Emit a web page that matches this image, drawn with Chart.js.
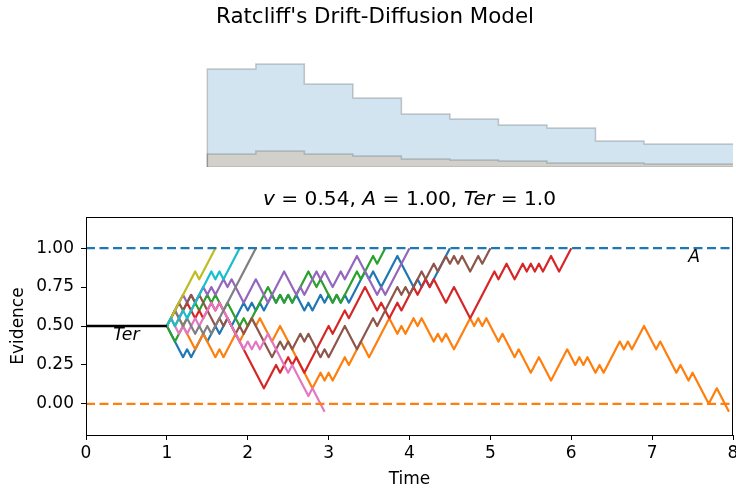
<!DOCTYPE html>
<html>
<head>
<meta charset="utf-8">
<script src="https://cdn.jsdelivr.net/npm/chart.js@4.4.1/dist/chart.umd.min.js"></script>
<style>
    html, body { margin: 0; padding: 0; background: #fff; }
    #wrap { position: relative; width: 736px; height: 490px; }
    #histCanvas { position: absolute; left: 0; top: 0; }
    #walkCanvas { position: absolute; left: 0; top: 175px; }
</style>
</head>
<body>
<div id="wrap">
    <canvas id="histCanvas" width="736" height="175" style="width:736px;height:175px"></canvas>
    <canvas id="walkCanvas" width="736" height="315" style="width:736px;height:315px"></canvas>
</div>
<script>
const FONT = '"DejaVu Sans", "Liberation Sans", sans-serif';

// MODEL PARAMETERS

const driftRate = 0.54;
const boundary = 1.0;
const startPoint = 0.5;
const nonDecisionTime = 1.0;

// FINISHING TIME HISTOGRAMS (bin edges in time units)

const binEdges = [1.5, 2.1, 2.7, 3.3, 3.9, 4.5, 5.1, 5.7, 6.3, 6.9, 7.5, 8.1];
const upperHist = [0.65, 0.98, 1.03, 0.83, 0.69, 0.53, 0.48, 0.42, 0.39, 0.26, 0.23];
const lowerHist = [0.05, 0.13, 0.16, 0.13, 0.11, 0.08, 0.07, 0.06, 0.04, 0.04, 0.03];

// SAMPLE WALKS - turning points [time, evidence]

const walkBlue = [[1.00,0.50],[1.20,0.30],[1.25,0.35],[1.30,0.30],[1.45,0.45],[1.50,0.40],[1.60,0.50],[1.65,0.45],
    [1.75,0.55],[1.80,0.50],[1.95,0.65],[2.00,0.60],[2.05,0.65],[2.10,0.60],[2.15,0.65],[2.20,0.60],[2.30,0.70],
    [2.35,0.65],[2.40,0.70],[2.45,0.65],[2.50,0.70],[2.55,0.65],[2.60,0.70],[2.70,0.60],[2.75,0.65],[2.80,0.60],
    [2.90,0.70],[2.95,0.65],[3.00,0.70],[3.05,0.65],[3.10,0.70],[3.15,0.65],[3.20,0.70],[3.25,0.65],[3.45,0.85],
    [3.50,0.80],[3.55,0.85],[3.65,0.75],[3.85,0.95],[4.05,0.75],[4.10,0.80],[4.15,0.75],[4.20,0.80],[4.25,0.75],
    [4.50,1.00]];
const walkOrange = [[1.00,0.50],[1.05,0.55],[1.10,0.50],[1.15,0.55],[1.35,0.35],[1.45,0.45],[1.60,0.30],[1.65,0.35],
    [1.70,0.30],[1.85,0.45],[1.90,0.40],[2.05,0.55],[2.10,0.50],[2.15,0.55],[2.30,0.40],[2.40,0.50],[2.80,0.10],
    [2.90,0.20],[2.95,0.15],[3.00,0.20],[3.05,0.15],[3.20,0.30],[3.25,0.25],[3.40,0.40],[3.50,0.30],[3.75,0.55],
    [3.85,0.45],[3.90,0.50],[3.95,0.45],[4.05,0.55],[4.10,0.50],[4.15,0.55],[4.30,0.40],[4.35,0.45],[4.40,0.40],
    [4.45,0.45],[4.55,0.35],[4.75,0.55],[4.80,0.50],[4.85,0.55],[4.90,0.50],[4.95,0.55],[5.10,0.40],[5.15,0.45],
    [5.30,0.30],[5.35,0.35],[5.50,0.20],[5.60,0.30],[5.75,0.15],[5.95,0.35],[6.05,0.25],[6.10,0.30],[6.15,0.25],
    [6.20,0.30],[6.30,0.20],[6.35,0.25],[6.40,0.20],[6.60,0.40],[6.65,0.35],[6.70,0.40],[6.75,0.35],[6.90,0.50],
    [7.05,0.35],[7.10,0.40],[7.30,0.20],[7.35,0.25],[7.45,0.15],[7.50,0.20],[7.70,0.00],[7.80,0.10],[7.95,-0.05]];
const walkGreen = [[1.00,0.50],[1.10,0.40],[1.35,0.65],[1.40,0.60],[1.50,0.70],[1.55,0.65],[1.60,0.70],[1.70,0.60],
    [1.75,0.65],[1.90,0.50],[1.95,0.55],[2.00,0.50],[2.25,0.75],[2.35,0.65],[2.40,0.70],[2.45,0.65],[2.50,0.70],
    [2.55,0.65],[2.75,0.85],[2.85,0.75],[2.90,0.80],[3.05,0.65],[3.10,0.70],[3.15,0.65],[3.35,0.85],[3.40,0.80],
    [3.55,0.95],[3.60,0.90],[3.70,1.00]];
const walkRed = [[1.00,0.50],[1.10,0.60],[1.15,0.55],[1.25,0.65],[1.35,0.55],[1.40,0.60],[1.45,0.55],[1.55,0.65],
    [1.60,0.60],[1.65,0.65],[2.20,0.10],[2.35,0.25],[2.40,0.20],[2.50,0.30],[2.55,0.25],[2.60,0.30],[2.70,0.20],
    [3.00,0.50],[3.05,0.45],[3.20,0.60],[3.25,0.55],[3.45,0.75],[3.60,0.60],[3.65,0.65],[3.75,0.55],[3.85,0.65],
    [3.90,0.60],[4.05,0.75],[4.10,0.70],[4.20,0.80],[4.25,0.75],[4.30,0.80],[4.45,0.65],[4.55,0.75],[4.75,0.55],
    [5.05,0.85],[5.10,0.80],[5.20,0.90],[5.30,0.80],[5.40,0.90],[5.45,0.85],[5.50,0.90],[5.55,0.85],[5.60,0.90],
    [5.65,0.85],[5.75,0.95],[5.85,0.85],[6.00,1.00]];
const walkPurple = [[1.00,0.50],[1.20,0.70],[1.25,0.65],[1.30,0.70],[1.35,0.65],[1.45,0.75],[1.50,0.70],[1.55,0.75],
    [1.60,0.70],[1.70,0.80],[1.75,0.75],[1.80,0.80],[1.95,0.65],[2.10,0.80],[2.25,0.65],[2.45,0.85],[2.60,0.70],
    [2.65,0.75],[2.70,0.70],[2.85,0.85],[2.90,0.80],[2.95,0.85],[3.05,0.75],[3.15,0.85],[3.20,0.80],[3.35,0.95],
    [3.60,0.70],[3.65,0.75],[3.70,0.70],[4.00,1.00]];
const walkBrown = [[1.00,0.50],[1.15,0.65],[1.20,0.60],[1.30,0.70],[1.35,0.65],[1.40,0.70],[1.60,0.50],[1.65,0.55],
    [1.70,0.50],[1.75,0.55],[1.85,0.45],[1.90,0.50],[1.95,0.45],[2.05,0.55],[2.30,0.30],[2.40,0.40],[2.45,0.35],
    [2.50,0.40],[2.55,0.35],[2.65,0.45],[2.70,0.40],[2.75,0.45],[2.90,0.30],[2.95,0.35],[3.00,0.30],[3.20,0.50],
    [3.35,0.35],[3.55,0.55],[3.60,0.50],[3.85,0.75],[3.90,0.70],[3.95,0.75],[4.00,0.70],[4.15,0.85],[4.20,0.80],
    [4.30,0.90],[4.35,0.85],[4.45,0.95],[4.50,0.90],[4.55,0.95],[4.60,0.90],[4.65,0.95],[4.75,0.85],[4.85,0.95],
    [4.90,0.90],[5.00,1.00]];
const walkPink = [[1.00,0.50],[1.05,0.55],[1.15,0.45],[1.20,0.50],[1.25,0.45],[1.35,0.55],[1.40,0.50],[1.55,0.65],
    [1.60,0.60],[1.65,0.65],[1.95,0.35],[2.00,0.40],[2.05,0.35],[2.10,0.40],[2.15,0.35],[2.25,0.45],[2.50,0.20],
    [2.55,0.25],[2.75,0.05],[2.80,0.10],[2.95,-0.05]];
const walkGray = [[1.00,0.50],[1.10,0.60],[1.20,0.50],[1.25,0.55],[1.35,0.45],[1.40,0.50],[1.45,0.45],[1.50,0.50],
    [1.55,0.45],[2.10,1.00]];
const walkOlive = [[1.00,0.50],[1.35,0.85],[1.40,0.80],[1.60,1.00]];
const walkCyan = [[1.00,0.50],[1.05,0.55],[1.10,0.50],[1.20,0.60],[1.25,0.55],[1.55,0.85],[1.60,0.80],[1.65,0.85],
    [1.70,0.80],[1.90,1.00]];

const walks = [walkBlue, walkOrange, walkGreen, walkRed, walkPurple, walkBrown, walkPink, walkGray, walkOlive, walkCyan];
const walkColors = ['#1f77b4', '#ff7f0e', '#2ca02c', '#d62728', '#9467bd', '#8c564b', '#e377c2', '#7f7f7f', '#bcbd22', '#17becf'];

const xTicks = [0, 1, 2, 3, 4, 5, 6, 7, 8];
const yTicks = [0.00, 0.25, 0.50, 0.75, 1.00];

Chart.defaults.font.family = FONT;
Chart.defaults.color = '#000';
Chart.defaults.animation = false;

// HELPERS

// outline of a step histogram: up the first edge, across the bins, down the last edge
function stepOutline(edges, values) {
    const last = edges.length - 1;
    const pts = [{x: edges[0], y: 0}];
    values.forEach((v, i) => pts.push({x: edges[i], y: v}));
    pts.push({x: edges[last], y: values[values.length - 1]});
    pts.push({x: edges[last], y: 0});
    return pts;
}

function drawRuns(ctx, runs, cx, cy, size) {
    let total = 0;
    runs.forEach(r => {
        ctx.font = (r.italic ? 'italic ' : '') + size + 'px ' + FONT;
        r.w = ctx.measureText(r.text).width;
        total += r.w;
    });
    let x = cx - total / 2;
    ctx.textAlign = 'left';
    ctx.textBaseline = 'middle';
    runs.forEach(r => {
        ctx.font = (r.italic ? 'italic ' : '') + size + 'px ' + FONT;
        ctx.fillText(r.text, x, cy);
        x += r.w;
    });
}

// HISTOGRAM PANEL

const suptitlePlugin = {
    id: 'suptitle',
    afterDraw(chart) {
        const {ctx} = chart;
        ctx.save();
        ctx.fillStyle = '#000';
        drawRuns(ctx, [{text: "Ratcliff's Drift-Diffusion Model"}], 375, 17, 21.4);
        ctx.restore();
    }
};

// lower histogram is drawn first, the upper one sits over it
new Chart(document.getElementById('histCanvas'), {
    type: 'line',
    data: {
        datasets: [
            {
                data: stepOutline(binEdges, upperHist),
                stepped: 'after',
                borderColor: 'rgba(0, 0, 0, 0.2)',
                backgroundColor: 'rgba(31, 119, 180, 0.2)',
                borderWidth: 1.5,
                fill: 'origin',
                pointRadius: 0,
                order: 2
            },
            {
                data: stepOutline(binEdges, lowerHist),
                stepped: 'after',
                borderColor: 'rgba(0, 0, 0, 0.2)',
                backgroundColor: 'rgba(255, 127, 14, 0.2)',
                borderWidth: 1.5,
                fill: 'origin',
                pointRadius: 0,
                order: 3
            },
            {
                data: [{x: binEdges[0], y: 0}, {x: binEdges[binEdges.length - 1], y: 0}],
                borderColor: 'rgba(0, 0, 0, 0.12)',
                borderWidth: 1.5,
                fill: false,
                pointRadius: 0,
                order: 1
            }
        ]
    },
    options: {
        responsive: false,
        layout: { padding: { left: 86, right: 3, top: 37, bottom: 8 } },
        plugins: {
            legend: { display: false },
            tooltip: { enabled: false },
            title: { display: false }
        },
        scales: {
            x: { type: 'linear', min: 0, max: 8, display: false },
            y: { min: 0, max: 1.3, display: false }
        }
    },
    plugins: [suptitlePlugin]
});

// WALK PANEL

const walkDatasets = walks.map((w, i) => ({
    data: w.map(p => ({x: p[0], y: p[1]})),
    borderColor: walkColors[i],
    borderWidth: 2.2,
    borderJoinStyle: 'round',
    pointRadius: 0,
    tension: 0,
    order: walks.length - i + 1
}));

const guideDatasets = [
    {
        data: [{x: 0, y: boundary}, {x: 8, y: boundary}],
        borderColor: '#1f77b4', borderWidth: 2.2, borderDash: [9, 4.5], pointRadius: 0, order: 0
    },
    {
        data: [{x: 0, y: 0}, {x: 8, y: 0}],
        borderColor: '#ff7f0e', borderWidth: 2.2, borderDash: [9, 4.5], pointRadius: 0, order: 0
    },
    {
        data: [{x: 0, y: startPoint}, {x: nonDecisionTime, y: startPoint}],
        borderColor: '#000', borderWidth: 2.5, pointRadius: 0, order: 0
    }
];

const framePlugin = {
    id: 'frame',
    afterDraw(chart) {
        const {ctx, chartArea: a} = chart;
        ctx.save();
        ctx.strokeStyle = '#000';
        ctx.lineWidth = 1;
        ctx.strokeRect(Math.round(a.left) + 0.5, Math.round(a.top) + 0.5,
            Math.round(a.right - a.left) - 1, Math.round(a.bottom - a.top));
        ctx.restore();
    }
};

const labelPlugin = {
    id: 'ddmLabels',
    afterDraw(chart) {
        const {ctx, chartArea: a, scales} = chart;
        ctx.save();
        ctx.fillStyle = '#000';
        drawRuns(ctx, [
            {text: 'v', italic: true},
            {text: ' = ' + driftRate.toFixed(2) + ', '},
            {text: 'A', italic: true},
            {text: ' = ' + boundary.toFixed(2) + ', '},
            {text: 'Ter', italic: true},
            {text: ' = ' + nonDecisionTime.toFixed(1)}
        ], (a.left + a.right) / 2, 25, 20.2);
        drawRuns(ctx, [{text: 'Ter', italic: true}],
            scales.x.getPixelForValue(nonDecisionTime / 2), scales.y.getPixelForValue(startPoint - 0.06), 17.3);
        drawRuns(ctx, [{text: 'A', italic: true}],
            scales.x.getPixelForValue(7.52), scales.y.getPixelForValue(boundary - 0.06), 17.3);
        ctx.restore();
    }
};

new Chart(document.getElementById('walkCanvas'), {
    type: 'line',
    data: { datasets: walkDatasets.concat(guideDatasets) },
    options: {
        responsive: false,
        layout: { padding: { left: 0, right: 3, top: 42, bottom: 0 } },
        plugins: {
            legend: { display: false },
            tooltip: { enabled: false }
        },
        scales: {
            x: {
                type: 'linear',
                min: 0,
                max: 8,
                afterBuildTicks: s => { s.ticks = xTicks.map(v => ({value: v})); },
                afterFit: s => { s.height = 55; s.paddingLeft = 0; s.paddingRight = 0; },
                ticks: { font: { size: 17 }, color: '#000', padding: 3, maxRotation: 0 },
                grid: { drawOnChartArea: false, drawTicks: true, tickLength: 5, color: '#000' },
                border: { color: '#000', width: 1 },
                title: { display: true, text: 'Time', font: { size: 17 }, color: '#000', padding: { top: 0, bottom: 0 } }
            },
            y: {
                min: -0.2,
                max: 1.2,
                afterBuildTicks: s => { s.ticks = yTicks.map(v => ({value: v})); },
                afterFit: s => { s.width = 86; s.paddingTop = 0; s.paddingBottom = 0; },
                ticks: { font: { size: 17 }, color: '#000', padding: 7, callback: v => v.toFixed(2) },
                grid: { drawOnChartArea: false, drawTicks: true, tickLength: 5, color: '#000' },
                border: { color: '#000', width: 1 },
                title: { display: true, text: 'Evidence', font: { size: 17 }, color: '#000', padding: { top: 8, bottom: 0 } }
            }
        }
    },
    plugins: [framePlugin, labelPlugin]
});
</script>
</body>
</html>
